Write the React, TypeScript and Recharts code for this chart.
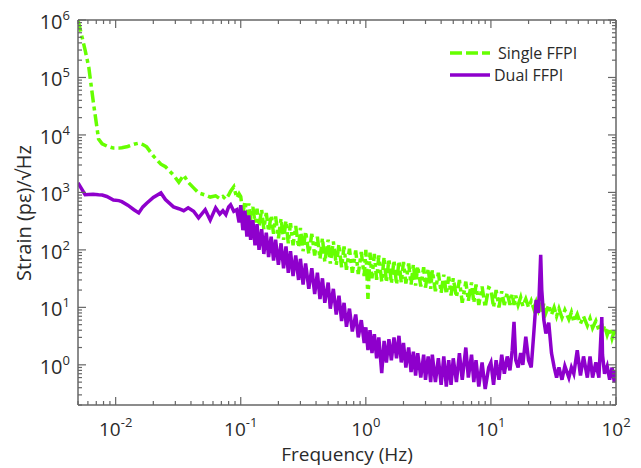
import React from 'react';
import { LineChart, Line, XAxis, YAxis, Label } from 'recharts';

// frequency (Hz) and amplitude spectral density
const freq = [
  0.005, 0.0057, 0.0061, 0.0066, 0.0073, 0.0078, 0.0085, 0.0096, 0.0106, 0.0112,
  0.0125, 0.014, 0.0153, 0.0165, 0.0177, 0.02, 0.023, 0.025, 0.029, 0.032,
  0.035, 0.038, 0.042, 0.046, 0.052, 0.057, 0.063, 0.068, 0.072, 0.076,
  0.08, 0.083, 0.088, 0.093, 0.097,
  0.1, 0.104, 0.108, 0.112, 0.116, 0.12, 0.125, 0.13, 0.135, 0.14,
  0.147, 0.153, 0.16, 0.167, 0.175, 0.183, 0.19, 0.2, 0.21, 0.22,
  0.23, 0.24, 0.25, 0.262, 0.275, 0.29, 0.3, 0.315, 0.33, 0.35,
  0.37, 0.39, 0.41, 0.43, 0.45, 0.47, 0.5, 0.52, 0.55, 0.58,
  0.61, 0.64, 0.67, 0.7, 0.74, 0.78, 0.83, 0.87, 0.92, 0.97,
  1.0, 1.04, 1.08, 1.12, 1.17, 1.22, 1.27, 1.34, 1.4, 1.46,
  1.53, 1.6, 1.68, 1.76, 1.84, 1.92, 2.0, 2.09, 2.2, 2.3,
  2.4, 2.5, 2.6, 2.75, 2.9, 3.0, 3.15, 3.3, 3.4, 3.6,
  3.8, 4.0, 4.2, 4.4, 4.6, 4.8, 5.0, 5.3, 5.6, 5.9,
  6.3, 6.6, 7.0, 7.3, 7.6, 8.0, 8.5, 9.0, 9.6,
  10, 10.5, 11, 11.6, 12.2, 12.8, 13.5, 14.2, 14.8, 15.3,
  15.8, 16.5, 17.3, 18, 19, 20, 21, 22, 23, 24,
  25, 25.5, 26.5, 27.5, 29, 30.5, 32, 33.5, 35, 37,
  39, 42, 44, 46, 49, 52, 55, 59, 62, 65,
  69, 73, 77, 78, 81, 85, 89, 93, 97, 100,
];

const singleFfpi = [
  1000000, 300000, 150000, 40000, 8500, 7000, 6400, 5900, 5900, 6000,
  6300, 6900, 7200, 6800, 6200, 4300, 3100, 2800, 2000, 1500,
  2000, 1500, 1200, 980, 900, 830, 870, 780, 850, 760,
  900, 1050, 1250, 800, 950,
  850, 420, 700, 380, 640, 330, 560, 300, 520, 260,
  500, 230, 440, 210, 400, 190, 380, 160, 350, 150,
  320, 130, 290, 120, 260, 110, 240, 95, 210, 85,
  190, 80, 170, 70, 160, 62, 150, 58, 140, 55,
  125, 50, 115, 45, 105, 40, 98, 38, 92, 35,
  100, 14, 90, 32, 85, 30, 80, 28, 75, 27,
  70, 26, 66, 25, 64, 27, 62, 26, 58, 25,
  56, 24, 52, 23, 50, 22, 47, 21, 44, 19,
  40, 18, 37, 17, 34, 16, 32, 15, 30, 12,
  28, 13, 27, 12, 25, 11, 23, 10, 22,
  21, 10, 20, 10, 19, 11, 18, 11, 17, 11,
  16, 11, 15, 10.5, 14, 10, 13, 9.5, 12.5, 9,
  12, 8.5, 11.5, 8, 11, 7.5, 10, 7, 9.5, 6.6,
  9, 6.2, 8.2, 5.6, 7.6, 5.2, 7, 4.8, 6.4, 4.4,
  5.8, 4.0, 5.2, 3.6, 4.8, 3.3, 4.4, 2.9, 3.9, 2.8,
];

const dualFfpi = [
  1470, 910, 920, 930, 910, 900, 850, 740, 720, 690,
  600, 500, 440, 560, 650, 820, 980, 750, 560, 520,
  480, 540, 470, 360, 500, 330, 540, 420, 480, 410,
  560, 610, 470, 500, 300,
  600, 220, 480, 170, 400, 150, 330, 120, 280, 100,
  230, 85, 200, 75, 170, 65, 150, 55, 130, 48,
  115, 40, 95, 35, 80, 30, 70, 25, 58, 21,
  48, 17, 40, 14, 32, 12, 27, 9.5, 21, 7.5,
  16, 5.8, 12, 4.6, 9.5, 3.8, 7.5, 3.0, 6.0, 2.4,
  4.5, 1.8, 4.0, 1.6, 3.4, 1.3, 3.0, 0.72, 2.6, 1.1,
  2.8, 1.2, 3.0, 1.3, 3.2, 1.1, 2.4, 0.9, 2.0, 0.75,
  1.7, 0.65, 1.6, 0.6, 1.5, 0.55, 1.4, 0.5, 1.5, 0.5,
  1.3, 0.45, 1.4, 0.42, 1.2, 0.45, 1.3, 0.5, 1.6, 0.55,
  2.0, 0.6, 1.5, 0.5, 1.2, 0.42, 1.1, 0.38, 0.9,
  1.1, 0.45, 1.2, 0.55, 1.5, 0.7, 1.4, 0.8, 1.8, 5.6,
  1.2, 0.9, 1.6, 1.0, 3.1, 1.2, 0.9, 3.5, 13.5, 8,
  82, 20, 6, 3.5, 5.4, 1.6, 0.92, 0.6, 0.9, 0.55,
  0.95, 0.6, 0.9, 0.7, 1.8, 0.65, 1.4, 0.6, 1.4, 0.6,
  1.1, 0.6, 6.8, 1.5, 0.7, 0.95, 0.55, 0.9, 0.5, 0.8,
];

const xDecades = [0.01, 0.1, 1, 10, 100];
const xExponents = ['-2', '-1', '0', '1', '2'];
const yDecades = [1, 10, 100, 1000, 10000, 100000, 1000000];
const yExponents = ['0', '1', '2', '3', '4', '5', '6'];

const series = [
  { key: 'single', name: 'Single FFPI', color: '#66ff00', dash: '12 4 4 4' },
  { key: 'dual', name: 'Dual FFPI', color: '#8e00cc', dash: undefined },
];

const data = freq.map((f, i) => ({ f, single: singleFfpi[i], dual: dualFfpi[i] }));

const minorOf = (decades: number[]) =>
  decades.flatMap((d) => [2, 3, 4, 5, 6, 7, 8, 9].map((m) => +(d * m).toPrecision(3)));

const xTicks = [...xDecades, ...minorOf([0.001, 0.01, 0.1, 1, 10])].filter((v) => v >= 0.005 && v <= 100);
const yTicks = [...yDecades, ...minorOf([0.1, 1, 10, 100, 1000, 10000, 100000])].filter((v) => v >= 0.2 && v <= 1000000);

const AXIS = '#666';
const TEXT = '#2a2a2a';
const FONT = "'Open Sans', 'Noto Sans', sans-serif";

const xExp = (v: number) => {
  const i = xDecades.findIndex((d) => Math.abs(d - v) / d < 1e-6);
  return i < 0 ? null : xExponents[i];
};
const yExp = (v: number) => {
  const i = yDecades.findIndex((d) => Math.abs(d - v) / d < 1e-6);
  return i < 0 ? null : yExponents[i];
};

const BottomTick = ({ x, y, payload }: any) => {
  const e = xExp(payload.value);
  return (
    <g>
      <line x1={x} x2={x} y1={y} y2={y - (e ? 8 : 4)} stroke={AXIS} strokeWidth={1.2} />
      {e && (
        <text x={x} y={y + 31} textAnchor="middle" fontSize={19} fill={TEXT} fontFamily={FONT}>
          10<tspan dy={-9} fontSize={13}>{e}</tspan>
        </text>
      )}
    </g>
  );
};

const TopTick = ({ x, y, payload }: any) => {
  const e = xExp(payload.value);
  return <line x1={x} x2={x} y1={y} y2={y + (e ? 8 : 4)} stroke={AXIS} strokeWidth={1.2} />;
};

const LeftTick = ({ x, y, payload }: any) => {
  const e = yExp(payload.value);
  return (
    <g>
      <line x1={x} x2={x + (e ? 8 : 4)} y1={y} y2={y} stroke={AXIS} strokeWidth={1.2} />
      {e && (
        <text x={x - 8} y={y + 9} textAnchor="end" fontSize={20} fill={TEXT} fontFamily={FONT}>
          10<tspan dy={-9} fontSize={13}>{e}</tspan>
        </text>
      )}
    </g>
  );
};

const RightTick = ({ x, y, payload }: any) => {
  const e = yExp(payload.value);
  return <line x1={x} x2={x - (e ? 8 : 4)} y1={y} y2={y} stroke={AXIS} strokeWidth={1.2} />;
};

const axisLine = { stroke: AXIS, strokeWidth: 1.5 };

const App = () => (
  <div style={{ position: 'absolute', left: 0, top: 0, width: 641, height: 468, background: '#fff' }}>
    <LineChart width={641} height={468} data={data} margin={{ top: 0, right: 0, bottom: 0, left: 0 }}>
      <XAxis
        xAxisId="bottom"
        dataKey="f"
        type="number"
        scale="log"
        domain={[0.005, 100]}
        allowDataOverflow
        ticks={xTicks}
        interval={0}
        height={63}
        tickSize={0}
        tickMargin={0}
        tickLine={false}
        axisLine={axisLine}
        tick={<BottomTick />}
      >
        <Label
          content={() => (
            <text x={347} y={461} textAnchor="middle" fontSize={19} fill={TEXT} fontFamily={FONT}>
              Frequency (Hz)
            </text>
          )}
        />
      </XAxis>
      <XAxis
        xAxisId="top"
        orientation="top"
        dataKey="f"
        type="number"
        scale="log"
        domain={[0.005, 100]}
        allowDataOverflow
        ticks={xTicks}
        interval={0}
        height={20}
        tickSize={0}
        tickMargin={0}
        tickLine={false}
        axisLine={axisLine}
        tick={<TopTick />}
      />
      <YAxis
        yAxisId="left"
        type="number"
        scale="log"
        domain={[0.2, 1000000]}
        allowDataOverflow
        ticks={yTicks}
        interval={0}
        width={78}
        tickSize={0}
        tickMargin={0}
        tickLine={false}
        axisLine={axisLine}
        tick={<LeftTick />}
      >
        <Label
          content={() => (
            <text transform="translate(31,213) rotate(-90)" textAnchor="middle" fontSize={20} fill={TEXT} fontFamily={FONT}>
              Strain (pε)/√Hz
            </text>
          )}
        />
      </YAxis>
      <YAxis
        yAxisId="right"
        orientation="right"
        type="number"
        scale="log"
        domain={[0.2, 1000000]}
        allowDataOverflow
        ticks={yTicks}
        interval={0}
        width={25}
        tickSize={0}
        tickMargin={0}
        tickLine={false}
        axisLine={axisLine}
        tick={<RightTick />}
      />
      {series.map((s) => (
        <Line
          key={s.key}
          xAxisId="bottom"
          yAxisId="left"
          type="linear"
          dataKey={s.key}
          name={s.name}
          stroke={s.color}
          strokeWidth={3.5}
          strokeDasharray={s.dash}
          dot={false}
          activeDot={false}
          isAnimationActive={false}
        />
      ))}
    </LineChart>
    <div style={{ position: 'absolute', left: 448, top: 42, fontFamily: FONT, fontSize: 16, color: TEXT }}>
      {series.map((s, i) => (
        <div key={s.key} style={{ display: 'flex', alignItems: 'center', height: 22 }}>
          <svg width={i === 0 ? 50 : 46} height={10}>
            <line x1={2} x2={42} y1={5} y2={5} stroke={s.color} strokeWidth={3.5} strokeDasharray={s.dash ? '12 4' : undefined} />
          </svg>
          <span style={{ lineHeight: '22px' }}>{s.name}</span>
        </div>
      ))}
    </div>
  </div>
);

export default App;
